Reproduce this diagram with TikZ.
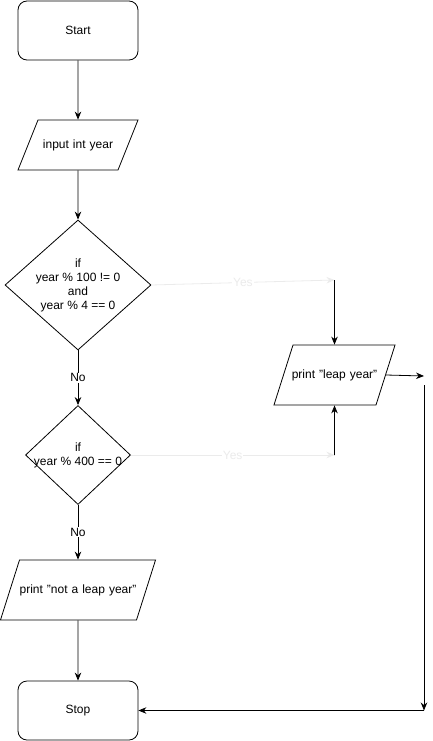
\documentclass[tikz,border=0pt]{standalone}
\usepackage{fontspec}
\setmainfont{Liberation Sans}
\usetikzlibrary{shapes.geometric,arrows.meta}

\definecolor{faint}{HTML}{EBEBEB}

\begin{document}
\begin{tikzpicture}[x=1pt, y=-1pt, font=\fontsize{12}{14}\selectfont,
  line width=0.8pt, >={Stealth[length=8pt,width=6.5pt]},
  term/.style={rectangle, rounded corners=9pt, draw, minimum width=120pt, minimum height=59pt},
  io/.style={trapezium, draw, inner xsep=0pt, text height=9pt, text depth=3pt, align=center},
  decision/.style={diamond, draw, inner sep=0pt},
  yesline/.style={draw=faint},
  yestext/.style={fill=white, text=faint, inner sep=1pt},
  notext/.style={fill=white, inner sep=1pt}]

\useasboundingbox (0,0) rectangle (433,741);

\node [term] (start) at (78,30.5) {Start};
\node [io, trapezium left angle=68.2, trapezium right angle=111.8,
  text width=80pt, inner ysep=19pt] (input) at (78,145) {input int year};
\node [decision, minimum width=146pt, minimum height=130pt,
  label={[align=center]center:if\\year \% 100 != 0\\and\\year \% 4 == 0}] (cond1) at (78,285) {};
\node [decision, minimum width=105pt, minimum height=99pt,
  label={[align=center]center:if\\year \% 400 == 0}] (cond2) at (78,455) {};
\node [io, trapezium left angle=72.4, trapezium right angle=107.6,
  text width=83pt, inner ysep=24pt] (leap) at (334.5,375) {\makebox[83pt][c]{print "leap year"}};
\node [io, trapezium left angle=72.4, trapezium right angle=107.6,
  text width=117pt, inner ysep=24pt] (notleap) at (78,590) {print "not a leap year"};
\node [term] (stop) at (78,710.5) {Stop};

\coordinate (yes1) at (334.5,280);
\coordinate (yes2) at (334.5,455);
\coordinate (right1) at (424,376);
\coordinate (right2) at (424,385);
\coordinate (right3) at (424,710.5);

\draw [->] (start) -- (input);
\draw [->] (input) -- (cond1);
\draw [->] (cond1) -- node [notext] {No} (cond2);
\draw [->] (cond2) -- node [notext] {No} (notleap);
\draw [->] (notleap) -- (stop);

\draw [->, yesline] (cond1.east) -- node [yestext] {Yes} (yes1);
\draw [->] (yes1) -- (leap.north);
\draw [->, yesline] (cond2.east) -- node [yestext] {Yes} (yes2);
\draw [->] (yes2) -- (leap.south);

\draw [->] (leap.east) -- (right1);
\draw [->] (right2) -- (right3);
\draw [->] (right3) -- (stop.east);

\end{tikzpicture}
\end{document}
